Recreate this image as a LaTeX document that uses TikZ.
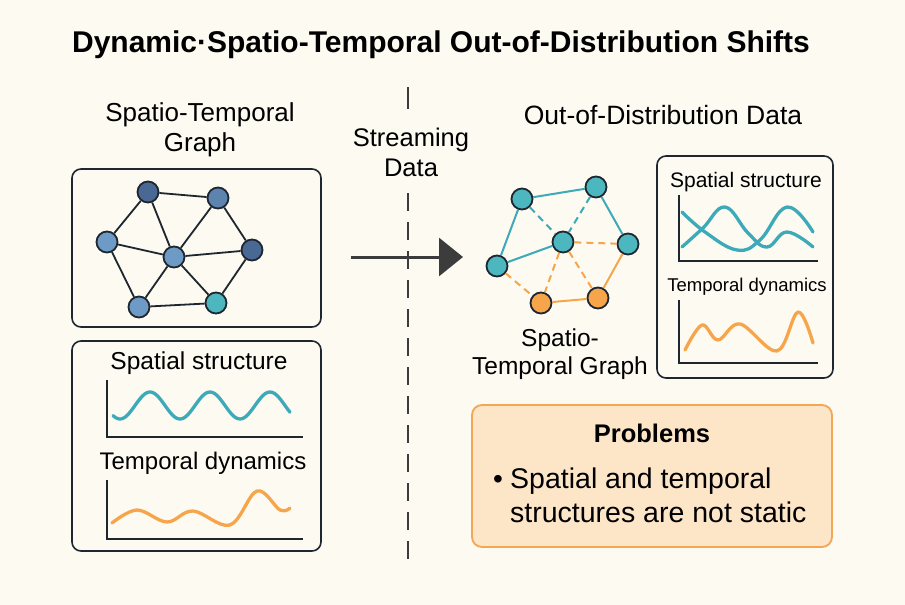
\documentclass[tikz,border=0pt]{standalone}
\usepackage{fontspec}
\setmainfont{Liberation Sans}
\usetikzlibrary{arrows.meta}

\definecolor{paper}{HTML}{FDFAF2}
\definecolor{ink}{HTML}{1E2630}
\definecolor{darkblue}{HTML}{4A6894}
\definecolor{midblue}{HTML}{5D84AF}
\definecolor{lightblue}{HTML}{6E9BC5}
\definecolor{teal}{HTML}{3CAAB8}
\definecolor{tealnode}{HTML}{4DB7BF}
\definecolor{orange}{HTML}{F6A54B}
\definecolor{peach}{HTML}{FDE5C8}
\definecolor{peachedge}{HTML}{F3A653}
\definecolor{arrowgray}{HTML}{3C3C3C}

\tikzset{
  fs/.style 2 args={font=\fontsize{#1}{#2}\selectfont},
  panel/.style={draw=ink, line width=1.6pt, rounded corners=9pt},
  gnode/.style={circle, minimum size=21pt, inner sep=0pt, draw=ink, line width=1.8pt},
  gedge/.style={draw=ink, line width=1.8pt},
  axis/.style={draw=ink, line width=1.8pt},
  tealline/.style={draw=teal, line width=2pt},
  tealdash/.style={draw=teal, line width=2pt, dash pattern=on 7pt off 5pt},
  orangeline/.style={draw=orange, line width=2pt},
  orangedash/.style={draw=orange, line width=2pt, dash pattern=on 7pt off 5pt},
  wave/.style={line width=3.3pt, line cap=round, line join=round},
  divider/.style={draw=arrowgray, line width=1.6pt, dash pattern=on 18pt off 11pt},
}

\begin{document}
\begin{tikzpicture}[x=1pt, y=-1pt]
\useasboundingbox (0,0) rectangle (905,605);
\fill[paper] (0,0) rectangle (905,605);

% title
\node[font=\bfseries\fontsize{30}{35}\selectfont] (title) at (441,45) {Dynamic\textperiodcentered Spatio-Temporal Out-of-Distribution Shifts};

% ---------- left column ----------
\node[fs={26}{30}, align=center] (lefthead) at (200,130) {Spatio-Temporal\\Graph};
\draw[panel] (72,169) rectangle (321,327);

\node[gnode, fill=darkblue]  (a) at (148,192) {};
\node[gnode, fill=midblue]   (b) at (218,198) {};
\node[gnode, fill=lightblue] (c) at (107,242) {};
\node[gnode, fill=lightblue] (d) at (174,257) {};
\node[gnode, fill=darkblue]  (e) at (252,250) {};
\node[gnode, fill=lightblue] (f) at (139,307) {};
\node[gnode, fill=tealnode]  (g) at (216,303) {};
\foreach \u/\v in {a/b, a/c, a/d, b/d, b/e, c/d, c/f, d/e, d/f, d/g, e/g, f/g}
  \draw[gedge] (\u) -- (\v);

\draw[panel] (72,341) rectangle (321,551);
\node[fs={24.5}{28}] (lspat) at (199,363) {Spatial structure};
\draw[axis] (107,380) -- (107,437) -- (303,437);
\draw[wave, teal] plot[domain=113:290, samples=90, smooth] (\x, {405.5 - 13.5*cos(6*(\x-150))});
\node[fs={24}{28}] (ltemp) at (203,463) {Temporal dynamics};
\draw[axis] (107,480) -- (107,539) -- (303,539);
\draw[wave, orange] plot[smooth, tension=0.6] coordinates {(112,523) (137,510) (167,522) (193,511) (230,525) (257,491) (280,510) (290,508)};

% ---------- streaming divider ----------
\node[fs={25.5}{30}, align=center] (stream) at (411,152) {Streaming\\Data};
\coordinate (div1a) at (408,87);
\coordinate (div1b) at (408,109);
\coordinate (div2a) at (408,193);
\coordinate (div2b) at (408,563);
\draw[arrowgray, line width=1.6pt] (div1a) -- (div1b);
\draw[divider] (div2a) -- (div2b);

\coordinate (arrs) at (351,257);
\coordinate (arre) at (463,257);
\draw[arrowgray, line width=3pt, -{Triangle[width=38pt, length=24pt]}] (arrs) -- (arre);

% ---------- right column ----------
\node[fs={26.5}{30}] (righthead) at (663,115) {Out-of-Distribution Data};

\node[gnode, fill=tealnode] (p1) at (522,199) {};
\node[gnode, fill=tealnode] (p2) at (596,187) {};
\node[gnode, fill=tealnode] (p3) at (563,242) {};
\node[gnode, fill=tealnode] (p4) at (628,244) {};
\node[gnode, fill=tealnode] (p5) at (497,266) {};
\node[gnode, fill=orange]   (p6) at (541,303) {};
\node[gnode, fill=orange]   (p7) at (598,298) {};
\draw[tealline] (p1) -- (p2);
\draw[tealline] (p1) -- (p5);
\draw[tealline] (p5) -- (p3);
\draw[tealline] (p2) -- (p4);
\draw[tealdash] (p1) -- (p3);
\draw[tealdash] (p2) -- (p3);
\draw[orangedash] (p3) -- (p4);
\draw[orangedash] (p3) -- (p6);
\draw[orangedash] (p3) -- (p7);
\draw[orangedash] (p5) -- (p6);
\draw[orangeline] (p6) -- (p7);
\draw[orangeline] (p4) -- (p7);

\node[fs={24.5}{28}, align=center] (rgraph) at (560,354) {Spatio-\\Temporal Graph};

\draw[panel] (657,156) rectangle (833,378);
\node[fs={21}{25}] (rspat) at (746,182) {Spatial structure};
\draw[axis] (679,195) -- (679,261) -- (818,261);
\draw[wave, teal] plot[smooth, tension=0.7] coordinates {(682,212) (705,232) (737,250) (760,240) (787,207) (813,232)};
\draw[wave, teal] plot[smooth, tension=0.7] coordinates {(682,247) (703,228) (725,207) (748,233) (767,247) (787,232) (813,247)};
\node[fs={18.5}{22}] (rtemp) at (747,287) {Temporal dynamics};
\draw[axis] (679,300) -- (679,363) -- (818,363);
\draw[wave, orange] plot[smooth, tension=0.6] coordinates {(685,350) (702,325) (718,340) (740,324) (777,351) (798,312) (813,343)};

% ---------- problems box ----------
\draw[fill=peach, draw=peachedge, line width=1.8pt, rounded corners=10pt] (472,405) rectangle (832,547);
\node[font=\bfseries\fontsize{25.5}{30}\selectfont] (probhead) at (652,433) {Problems};
\node[fs={28}{34}, anchor=base, inner sep=0pt] (bullet) at (498,488) {\textbullet};
\node[fs={28.5}{34}, anchor=west, align=left, inner sep=0pt] (probtext) at (510,495) {Spatial and temporal\\structures are not static};
\end{tikzpicture}
\end{document}
